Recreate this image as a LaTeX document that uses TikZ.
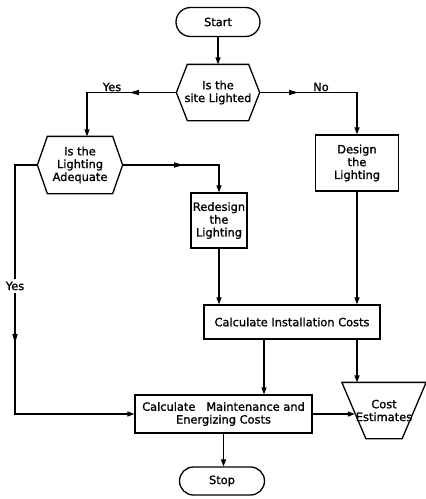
\documentclass[tikz,border=0pt]{standalone}
\usepackage{fontspec}
\setmainfont[FakeBold=1.2]{DejaVu Sans}
\usetikzlibrary{shapes.misc,arrows.meta,decorations.markings}
\begin{document}
\begin{tikzpicture}[x=1pt,y=-1pt,line width=1.3pt,
  every node/.style={font=\fontsize{11.4}{12.8}\selectfont, align=center, inner sep=0pt},
  term/.style={draw, rounded rectangle},
  procbox/.style={draw, rectangle},
  lbl/.style={inner sep=1.5pt},
  arr/.style={-{Triangle[length=7pt,width=5pt]}},
  midarr/.style={postaction={decorate}, decoration={markings,
      mark=at position #1 with {\fill (4.5pt,0pt) -- (-4.5pt,2.7pt) -- (-4.5pt,-2.7pt) -- cycle;}}}
]
\useasboundingbox[fill=white] (0,0) rectangle (426,499);

% nodes
\node[term, minimum width=84pt, minimum height=29pt] (start) at (218,22) {Start};
\node[minimum width=82pt, minimum height=55pt] (q1) at (218,92.5) {Is the\\site Lighted};
\node[minimum width=84pt, minimum height=56pt] (q2) at (80,165) {Is the\\Lighting\\Adequate};
\node[procbox, minimum width=83pt, minimum height=56pt] (design) at (357,163) {Design\\the\\Lighting};
\node[procbox, minimum width=56pt, minimum height=55pt] (redesign) at (219,220.5) {Redesign\\the\\Lighting};
\node[procbox, minimum width=176pt, minimum height=34pt] (ci) at (292,322) {Calculate Installation Costs};
\node[procbox, minimum width=177pt, minimum height=38pt] (cm) at (223.5,414) {Calculate\ \ \ Maintenance and\\Energizing Costs};
\node[minimum width=83pt, minimum height=55pt] (ce) at (384,410.5) {Cost\\Estimates};
\node[term, minimum width=85pt, minimum height=28pt] (stop) at (222,481) {Stop};

% hexagons
\draw (q1.west) -- ([xshift=11pt]q1.north west) -- ([xshift=-11pt]q1.north east) -- (q1.east)
  -- ([xshift=-11pt]q1.south east) -- ([xshift=11pt]q1.south west) -- cycle;
\draw (q2.west) -- ([xshift=10pt]q2.north west) -- ([xshift=-10pt]q2.north east) -- (q2.east)
  -- ([xshift=-10pt]q2.south east) -- ([xshift=10pt]q2.south west) -- cycle;
% trapezoid
\draw (ce.north west) -- (ce.north east) -- ([xshift=-24pt]ce.south east)
  -- ([xshift=24pt]ce.south west) -- cycle;

% connectors
\draw[arr] (start.south) -- (q1.north);
\draw[arr, midarr=42pt] (q1.west) -| ([xshift=7pt]q2.north);
\node[lbl] (yes1) at (112,87) {Yes};
\draw[arr, midarr=34pt] (q1.east) -| (design.north);
\node[lbl] (no1) at (321,87) {No};
\draw[arr, midarr=56pt] (q2.east) -| (redesign.north);
\coordinate (lft) at (15,414);
\draw[arr, midarr=196pt] (q2.west) -| (lft) -- (cm.west);
\node[lbl, fill=white, inner sep=3pt] (yes2) at (15,286) {Yes};
\draw[arr] (redesign.south) -- (redesign.south |- ci.north);
\draw[arr] (design.south) -- (design.south |- ci.north);
\draw[arr] ([xshift=-28pt]ci.south) -- ([xshift=-28pt]ci.south |- cm.north);
\draw[arr] ([xshift=65pt]ci.south) -- ([xshift=65pt]ci.south |- ce.north);
\draw[arr] (cm.east) -- ([xshift=13pt]cm.east -| ce.west);
\draw[arr] (cm.south) -- (cm.south |- stop.north);
\end{tikzpicture}
\end{document}
